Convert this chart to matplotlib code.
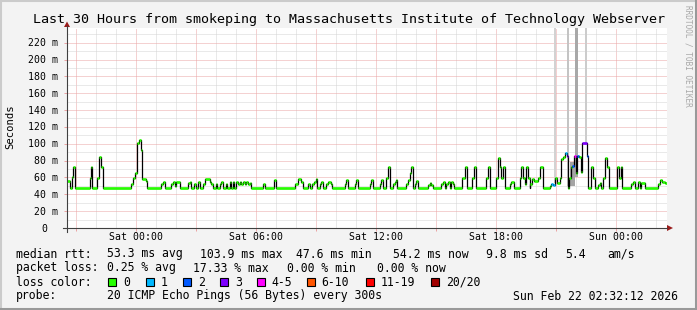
import numpy as np
import matplotlib.pyplot as plt
from matplotlib.transforms import blended_transform_factory, offset_copy

# median rtt as steps: hours relative to Sat 00:00, value (ms) held until next entry
step_h = [-3.47, -3.33, -3.22, -3.17, -3.07, -2.33, -2.25, -2.20, -1.95, -1.87,
          -1.75, -1.67, -0.25, -0.17, -0.05, 0.05, 0.13, 0.22, 0.30, 0.50,
          0.55, 1.25, 1.33, 1.42, 1.75, 1.83, 1.92, 2.00, 2.17, 2.58,
          2.67, 2.72, 2.87, 2.97, 3.08, 3.17, 3.33, 3.42, 3.67, 3.75,
          3.83, 3.97, 4.03, 4.17, 4.25, 4.33, 4.47, 4.53, 4.67, 4.75,
          4.83, 4.88, 5.00, 5.08, 5.17, 5.22, 5.33, 5.42, 5.50, 5.58,
          5.67, 5.73, 6.33, 6.42, 6.88, 7.00, 7.92, 8.08, 8.25, 8.33,
          8.58, 8.67, 8.80, 8.88, 8.97, 9.03, 9.17, 9.25, 9.33, 9.50,
          9.58, 9.75, 9.80, 10.42, 10.50, 10.58, 10.92, 11.00, 11.08, 11.67,
          11.75, 11.83, 12.17, 12.25, 12.33, 12.50, 12.58, 12.70, 12.83, 12.92,
          12.98, 13.05, 13.50, 13.58, 13.67, 13.75, 13.85, 13.92, 14.00, 14.08,
          14.58, 14.67, 14.75, 14.83, 15.25, 15.33, 15.42, 15.50, 15.58, 15.67,
          15.75, 15.83, 15.90, 16.30, 16.42, 16.53, 16.78, 16.87, 16.97, 17.50,
          17.58, 17.70, 18.00, 18.08, 18.17, 18.25, 18.33, 18.45, 18.67, 18.75,
          18.87, 19.17, 19.25, 19.33, 19.42, 19.50, 19.58, 19.67, 19.70, 19.78,
          19.87, 20.08, 20.17, 20.33, 20.67, 20.75, 20.83, 20.92, 21.04, 21.17,
          21.25, 21.33, 21.45, 21.55, 21.58, 21.62, 21.72, 21.78, 21.88, 21.97,
          22.05, 22.13, 22.22, 22.30, 22.53, 22.58, 22.75, 22.83, 22.92, 23.08,
          23.17, 23.25, 23.33, 23.42, 23.55, 23.63, 24.05, 24.13, 24.22, 24.30,
          24.75, 24.83, 24.92, 25.08, 25.17, 25.25, 25.42, 26.08, 26.17, 26.28,
          26.42]
rtt_ms = [56, 47.6, 60, 72, 47.6, 59, 72, 47.6, 59, 84,
          72, 47.6, 52, 59, 65, 101, 104, 92, 58, 56,
          47.6, 52, 55, 47.6, 52, 55, 50, 55, 47.6, 53,
          55, 47.6, 52, 47.6, 55, 47.6, 52, 58, 55, 52,
          47.6, 52, 47.6, 52, 55, 47.6, 52, 47.6, 55, 47.6,
          55, 47.6, 55, 52, 55, 52, 55, 52, 55, 52,
          54, 47.6, 52, 47.6, 57, 47.6, 52, 58, 55, 47.6,
          52, 47.6, 52, 55, 58, 47.6, 52, 55, 47.6, 52,
          55, 52, 47.6, 52, 57, 47.6, 52, 57, 47.6, 52,
          57, 47.6, 52, 57, 47.6, 59, 72, 47.6, 52, 55,
          57, 47.6, 52, 57, 65, 72, 47.6, 52, 56, 47.6,
          51, 54, 51, 47.6, 52, 55, 47.6, 52, 55, 47.6,
          55, 52, 47.6, 59, 72, 47.6, 59, 73, 47.6, 59,
          73, 47.6, 59, 83, 73, 59, 72, 47.6, 52, 55,
          47.6, 59, 72, 59, 52, 72, 59, 47.6, 52, 58,
          56, 59, 72, 47.6, 50, 52, 51, 59, 54, 59,
          82, 84, 89, 86, 47.6, 59, 73, 74, 86, 65,
          86, 84, 66, 101, 86, 47.6, 72, 59, 47.6, 51,
          53, 47.6, 59, 83, 72, 47.6, 72, 59, 72, 47.6,
          52, 55, 47.6, 55, 47.6, 54, 47.6, 52, 57, 55,
          54]
end_h = 26.53

# steps with packet loss (lost pings out of 20)
lossy_h = [20.75, 20.83, 21.45, 21.55, 21.78, 21.88, 22.05, 22.30, 22.53]
lossy_n = [1, 1, 1, 3, 2, 4, 2, 3, 2]

# smoke (spread of pings) reaching the top of the chart
smoke_h0 = [20.86, 21.55, 21.95, 22.45, 21.67]
smoke_h1 = [20.99, 21.62, 22.08, 22.55, 21.92]
smoke_lo = [54, 50, 60, 100, 50]
smoke_hi = [237.4, 237.4, 237.4, 237.4, 78]
smoke_col = ['#d2d2d2', '#c4c4c4', '#a8a8a8', '#cccccc', '#a4a4a4']

loss_labels = ['0', '1', '2', '3', '4-5', '6-10', '11-19', '20/20']
loss_colors = ['#26ff00', '#00b8ff', '#0059ff', '#7e00ff', '#ff00ff',
               '#ff5500', '#ff0000', '#a10000']

y_ticks = [0, 20, 40, 60, 80, 100, 120, 140, 160, 180, 200, 220]
x_ticks_h = [0, 6, 12, 18, 24]
x_tick_labels = ['Sat 00:00', 'Sat 06:00', 'Sat 12:00', 'Sat 18:00', 'Sun 00:00']

title = 'Last 30 Hours from smokeping to Massachusetts Institute of Technology Webserver'
rtt_row = ['median rtt:', '53.3 ms avg', '103.9 ms max', '47.6 ms min',
           '54.2 ms now', '9.8 ms sd', '5.4', 'am/s']
loss_row = ['packet loss:', '0.25 % avg', '17.33 % max', '0.00 % min', '0.00 % now']
probe_row = ['probe:', '20 ICMP Echo Pings (56 Bytes) every 300s',
             'Sun Feb 22 02:32:12 2026']

W, H = 697, 310
MONO = 'DejaVu Sans Mono'
GRID = '#d4d4d4'
MGRID = '#eba4a4'


def loss_index(n):
    if n <= 3:
        return n
    if n <= 5:
        return 4
    if n <= 10:
        return 5
    if n <= 19:
        return 6
    return 7


fig = plt.figure(figsize=(W / 100, H / 100), dpi=100, facecolor='#f3f3f3')
ax = fig.add_axes([67 / W, (H - 228) / H, 600 / W, 200 / H])
ax.set_facecolor('white')
ax.set_xlim(-3.467, 26.533)
ax.set_ylim(0, 237.4)
for s in ax.spines.values():
    s.set_visible(False)

# grid
dots = (0, (1, 1))
for h in range(-3, 27):
    ax.axvline(h, color=MGRID if h % 3 == 0 else GRID, lw=0.72, ls=dots, zorder=0)
for v in range(10, 240, 10):
    ax.axhline(v, color=MGRID if v % 20 == 0 else GRID, lw=0.72, ls=dots, zorder=0)

ax.set_yticks(y_ticks)
ax.set_yticklabels([])
ax.set_xticks(np.arange(-3, 27, 3))
ax.set_xticklabels([])
ax.tick_params(axis='both', direction='out', length=2.5, width=0.72, color=MGRID)

# smoke
ax.bar(smoke_h0, np.array(smoke_hi) - np.array(smoke_lo), bottom=smoke_lo,
       width=np.array(smoke_h1) - np.array(smoke_h0), align='edge',
       color=smoke_col, lw=0, zorder=1)

# median line
t = step_h + [end_h]
v = rtt_ms + [rtt_ms[-1]]
ax.step(t, v, where='post', color='black', lw=0.9, zorder=2)
cols = []
for h in step_h:
    n = 0
    for lh, ln in zip(lossy_h, lossy_n):
        if abs(lh - h) < 1e-6:
            n = ln
    cols.append(loss_colors[loss_index(n)])
ax.hlines(rtt_ms, step_h, t[1:], colors=cols, lw=1.9, zorder=3)

# overlay in pixel coordinates for text, axes and frame
ov = fig.add_axes([0, 0, 1, 1], facecolor='none')
ov.set_xlim(0, W)
ov.set_ylim(H, 0)
ov.axis('off')

# frame
ov.plot([1, W - 1], [1, 1], color='#cbcbcb', lw=1.5)
ov.plot([1, 1], [1, H - 1], color='#cbcbcb', lw=1.5)
ov.plot([0, W], [H - 1.5, H - 1.5], color='#999999', lw=2.2)
ov.plot([W - 1.5, W - 1.5], [0, H], color='#999999', lw=2.2)

# axes with arrows
ov.plot([67, 67], [232, 26], color='#404040', lw=0.8)
ov.plot([63, 667], [228, 228], color='#404040', lw=0.8)
ov.fill([64, 70, 67], [27, 27, 21.5], color='#9a1c1c', lw=0)
ov.fill([667, 667, 673], [225, 231, 228], color='#9a1c1c', lw=0)

ov.text(W / 2 + 0.5, 23.5, title, family=MONO, fontsize=9.6, ha='center', va='baseline')
ov.text(10, 127, 'Seconds', family=MONO, fontsize=7.6, rotation=90, ha='center', va='center')
ov.text(688, 5, 'RRDTOOL / TOBI OETIKER', family=MONO, fontsize=5.6, rotation=270,
        ha='center', va='top', color='#a8a8a8')

# tick labels tied to the plot's scales
ytr = offset_copy(blended_transform_factory(ov.transData, ax.transData),
                  fig=fig, y=-3.5, units='dots')
for yv in y_ticks:
    if yv == 0:
        ov.text(47, yv, '0', transform=ytr, family=MONO, fontsize=7.1, ha='right', va='baseline')
    else:
        ov.text(58, yv, f'{yv} m', transform=ytr, family=MONO, fontsize=7.1,
                ha='right', va='baseline')
xtr = blended_transform_factory(ax.transData, ov.transData)
for xh, lab in zip(x_ticks_h, x_tick_labels):
    ov.text(xh, 240, lab, transform=xtr, family=MONO, fontsize=7.1, ha='center', va='baseline')

# legend rows
fs = 8.3
for x, s in zip([16, 107.3, 200, 296, 393.3, 486, 565, 607.7], rtt_row):
    ov.text(x, 257.5, s, family=MONO, fontsize=fs, va='baseline')
for x, s in zip([16, 107.3, 193.3, 286.7, 376.7], loss_row):
    ov.text(x, 271.5, s, family=MONO, fontsize=fs, va='baseline')
ov.text(16, 285.5, 'loss color:', family=MONO, fontsize=fs, va='baseline')
box_x = [108.3, 145.7, 182.7, 220, 256.7, 306.7, 365.7, 430.7]
for bx, lab, c in zip(box_x, loss_labels, loss_colors):
    ov.fill([bx, bx + 8, bx + 8, bx], [278, 278, 286, 286], facecolor=c,
            edgecolor='black', lw=0.8)
    ov.text(bx + 15, 285.5, lab, family=MONO, fontsize=fs, va='baseline')
for x, s in zip([16, 107.3, 513.3], probe_row):
    ov.text(x, 299.5, s, family=MONO, fontsize=fs, va='baseline')

fig.savefig('out.png', dpi=100, facecolor=fig.get_facecolor())
